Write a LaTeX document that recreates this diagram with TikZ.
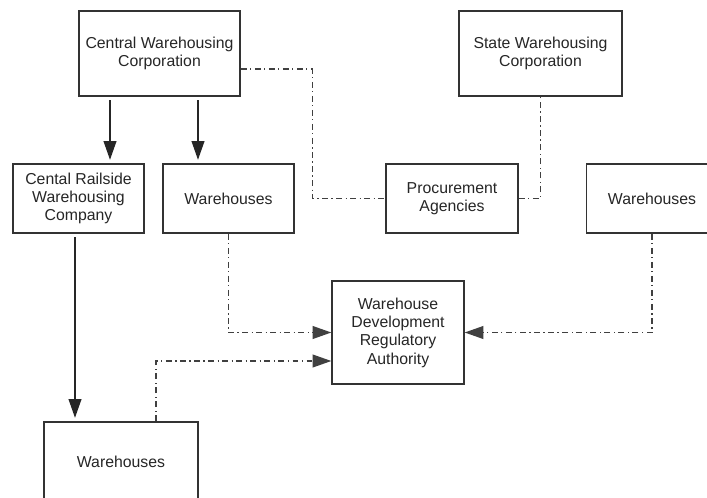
\documentclass[tikz,border=0pt]{standalone}
\usepackage{fontspec}
\setmainfont{Liberation Sans}
\usetikzlibrary{arrows.meta}

\begin{document}
\begin{tikzpicture}
\tikzset{box/.style={draw=black!80, line width=1.2pt, align=center, inner sep=0pt, text=black!85, font=\fontsize{13.5}{15.6}\selectfont},
    solidarrow/.style={draw=black!85, line width=1pt, -{Triangle[length=16pt, width=11pt]}, shorten <=3pt, shorten >=3pt},
    dashdot/.style={draw=black!75, line width=1.1pt, dash pattern=on 5pt off 3pt on 1pt off 3pt},
    dashdotarrow/.style={dashdot, -{Triangle[length=16pt, width=11pt]}}}
    \path[use as bounding box, clip] (0, 0) rectangle (21.21, 14.91);
    \fill[white] (0, 0) rectangle (21.21, 14.91);

    \node[box, minimum width=4.83cm, minimum height=2.55cm] (cwc) at (4.785, 13.305) {Central Warehousing\\Corporation};
    \node[box, minimum width=4.89cm, minimum height=2.55cm] (swc) at (16.215, 13.305) {State Warehousing\\Corporation};
    \node[box, minimum width=3.93cm, minimum height=2.07cm] (crwc) at (2.355, 8.955) {Cental Railside\\Warehousing\\Company};
    \node[box, minimum width=3.93cm, minimum height=2.07cm] (whcwc) at (6.855, 8.955) {Warehouses};
    \node[box, minimum width=3.96cm, minimum height=2.07cm] (agencies) at (13.56, 8.955) {Procurement\\Agencies};
    \node[box, minimum width=3.93cm, minimum height=2.07cm] (whswc) at (19.56, 8.955) {Warehouses};
    \node[box, minimum width=3.96cm, minimum height=3.09cm] (wdra) at (11.94, 4.935) {Warehouse\\Development\\Regulatory\\Authority};
    \node[box, minimum width=4.62cm, minimum height=2.4cm] (whcrwc) at (3.63, 1.05) {Warehouses};

    \draw[solidarrow] ([xshift=-1.485cm]cwc.south) -- ([xshift=-1.485cm]cwc.south |- crwc.north);
    \draw[solidarrow] ([xshift=1.155cm]cwc.south) -- ([xshift=1.155cm]cwc.south |- whcwc.north);
    \draw[solidarrow] ([xshift=-0.105cm]crwc.south) -- ([xshift=-0.105cm]crwc.south |- whcrwc.north);

    \draw[dashdot] ([yshift=-0.465cm]cwc.east) -| ([xshift=-2.19cm]agencies.west) -- (agencies.west);
    \draw[dashdot] (agencies.east) -| (swc.south);

    \draw[dashdotarrow] (whcwc.south) |- (wdra.west);
    \draw[dashdotarrow] ([xshift=1.05cm]whcrwc.north) |- ([yshift=-0.855cm]wdra.west);
    \draw[dashdotarrow] (whswc.south) |- (wdra.east);
\end{tikzpicture}
\end{document}
